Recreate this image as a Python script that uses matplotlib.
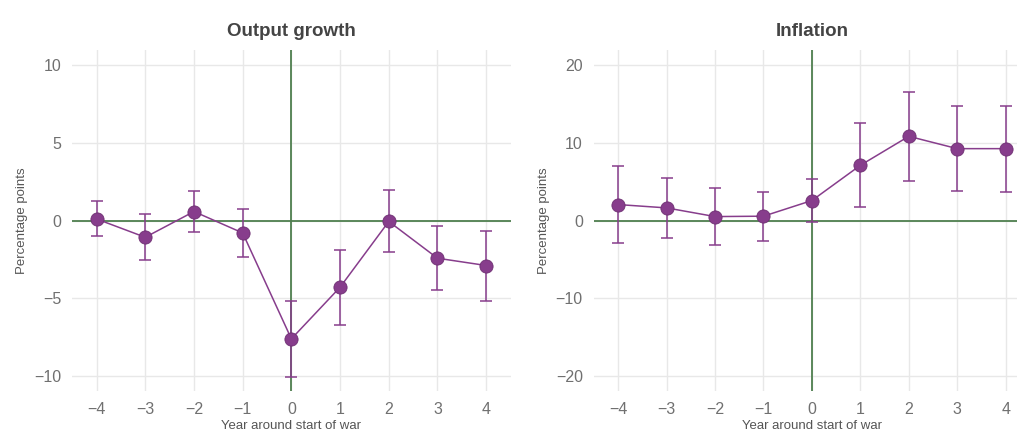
import numpy as np
import matplotlib.pyplot as plt

plt.rcParams['font.family'] = ['Liberation Sans', 'DejaVu Sans']

years = [-4, -3, -2, -1, 0, 1, 2, 3, 4]

# output growth: point estimate and confidence band
output_est = [0.1, -1.08, 0.58, -0.8, -7.63, -4.3, -0.06, -2.43, -2.9]
output_hi = [1.25, 0.39, 1.89, 0.73, -5.2, -1.9, 1.94, -0.37, -0.65]
output_lo = [-1.0, -2.56, -0.73, -2.34, -10.1, -6.73, -2.02, -4.5, -5.16]

# inflation
infl_est = [2.06, 1.63, 0.51, 0.56, 2.58, 7.12, 10.86, 9.27, 9.27]
infl_hi = [7.04, 5.54, 4.16, 3.65, 5.32, 12.53, 16.57, 14.72, 14.76]
infl_lo = [-2.96, -2.19, -3.18, -2.58, -0.17, 1.8, 5.1, 3.82, 3.73]

purple = '#873d8c'
green = '#4f7f4f'
grid_col = '#e8e8e8'
text_col = '#707070'


def draw_panel(ax, title, est, lo, hi, yticks, ylim):
    est = np.array(est)
    yerr = [est - np.array(lo), np.array(hi) - est]
    ax.set_xlim(-4.5, 4.5)
    ax.set_ylim(*ylim)
    ax.set_xticks(years)
    ax.set_yticks(yticks)
    ax.grid(True, color=grid_col, linewidth=1)
    ax.set_axisbelow(True)
    for s in ax.spines.values():
        s.set_visible(False)
    ax.tick_params(length=0, labelsize=11.5, labelcolor=text_col, pad=8)
    ax.axhline(0, color=green, linewidth=1.3, zorder=1)
    ax.axvline(0, color=green, linewidth=1.3, zorder=1)
    ax.errorbar(years, est, yerr=yerr, fmt='none', ecolor=purple,
                elinewidth=1.1, capsize=4, capthick=1.1, zorder=2)
    ax.plot(years, est, color=purple, linewidth=1.1, marker='o',
            markersize=9.5, markerfacecolor=purple, markeredgecolor='#6e2f72',
            markeredgewidth=0.6, zorder=3)
    ax.set_title(title, fontsize=13.5, fontweight='bold', color='#444444', pad=10)
    ax.set_xlabel('Year around start of war', fontsize=9.5, color='#555555', labelpad=2)
    ax.set_ylabel('Percentage points', fontsize=9.5, color='#555555', labelpad=4)


fig = plt.figure(figsize=(10.17, 4.38), dpi=100)
ax1 = fig.add_axes([0.071, 0.107, 0.431, 0.779])
# right panel runs a bit past the figure edge, as in the original
ax2 = fig.add_axes([0.584, 0.107, 0.4287, 0.779])

draw_panel(ax1, 'Output growth', output_est, output_lo, output_hi,
           [-10, -5, 0, 5, 10], (-11, 11))
draw_panel(ax2, 'Inflation', infl_est, infl_lo, infl_hi,
           [-20, -10, 0, 10, 20], (-22, 22))

fig.savefig('out.png', dpi=100)
